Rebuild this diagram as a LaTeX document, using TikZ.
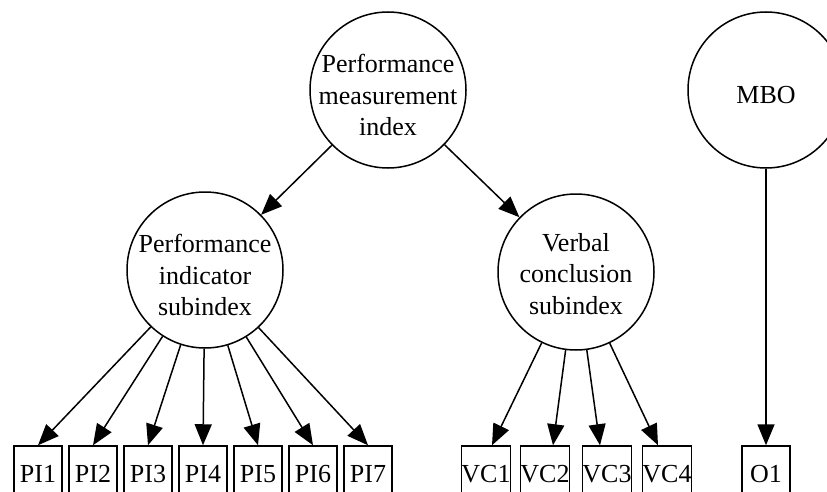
\documentclass[tikz,border=0pt]{standalone}
\usepackage{fontspec}
\setmainfont{Liberation Serif}
\usetikzlibrary{arrows.meta}
\begin{document}
\begin{tikzpicture}[x=1pt,y=-1pt,
  bubble/.style={circle,draw,line width=1.5pt,minimum size=156pt,inner sep=0pt},
  btext/.style={align=center,font=\fontsize{26}{31.5}\selectfont,inner sep=0pt,yshift=-5pt},
  obs/.style={draw,line width=1.5pt,minimum width=48pt,minimum height=56pt,inner sep=0pt,
    font=\fontsize{26}{30}\selectfont},
  arr/.style={line width=1.5pt,-{Triangle[length=21pt,width=17pt]}}
]
\useasboundingbox (0,0) rectangle (827,492);
\clip (0,0) rectangle (827,492);
\fill[white] (0,0) rectangle (827,492);

\node[bubble,label={[btext]center:Performance\\measurement\\index}] (pmi) at (388,90) {};
\node[bubble,label={[btext]center:MBO}] (mbo) at (766,90) {};
\node[bubble,label={[btext]center:Performance\\indicator\\subindex}] (pis) at (205,270) {};
\node[bubble,label={[btext,yshift=3pt]center:Verbal\\conclusion\\subindex}] (vcs) at (576,272) {};

\node[obs] (pi1) at (38,474) {PI1};
\node[obs] (pi2) at (93,474) {PI2};
\node[obs] (pi3) at (148,474) {PI3};
\node[obs] (pi4) at (203,474) {PI4};
\node[obs] (pi5) at (258,474) {PI5};
\node[obs] (pi6) at (313,474) {PI6};
\node[obs] (pi7) at (368,474) {PI7};

\node[obs] (vc1) at (486,474) {VC1};
\node[obs] (vc2) at (545,474) {VC2};
\node[obs] (vc3) at (607,474) {VC3};
\node[obs] (vc4) at (667,474) {VC4};
\node[obs] (o1) at (766,474) {O1};

\draw[arr] (pmi) -- (pis);
\draw[arr] (pmi) -- (vcs);

\draw[arr] (pis) -- (pi1.north);
\draw[arr] (pis) -- (pi2.north);
\draw[arr] (pis) -- (pi3.north);
\draw[arr] (pis) -- (pi4.north);
\draw[arr] (pis) -- (pi5.north);
\draw[arr] (pis) -- (pi6.north);
\draw[arr] (pis) -- (pi7.north);

\draw[arr] (vcs) -- ([xshift=6pt]vc1.north);
\draw[arr] (vcs) -- ([xshift=8pt]vc2.north);
\draw[arr] (vcs) -- ([xshift=-7pt]vc3.north);
\draw[arr] (vcs) -- ([xshift=-9pt]vc4.north);

\draw[arr] (mbo) -- (o1.north);
\end{tikzpicture}
\end{document}
